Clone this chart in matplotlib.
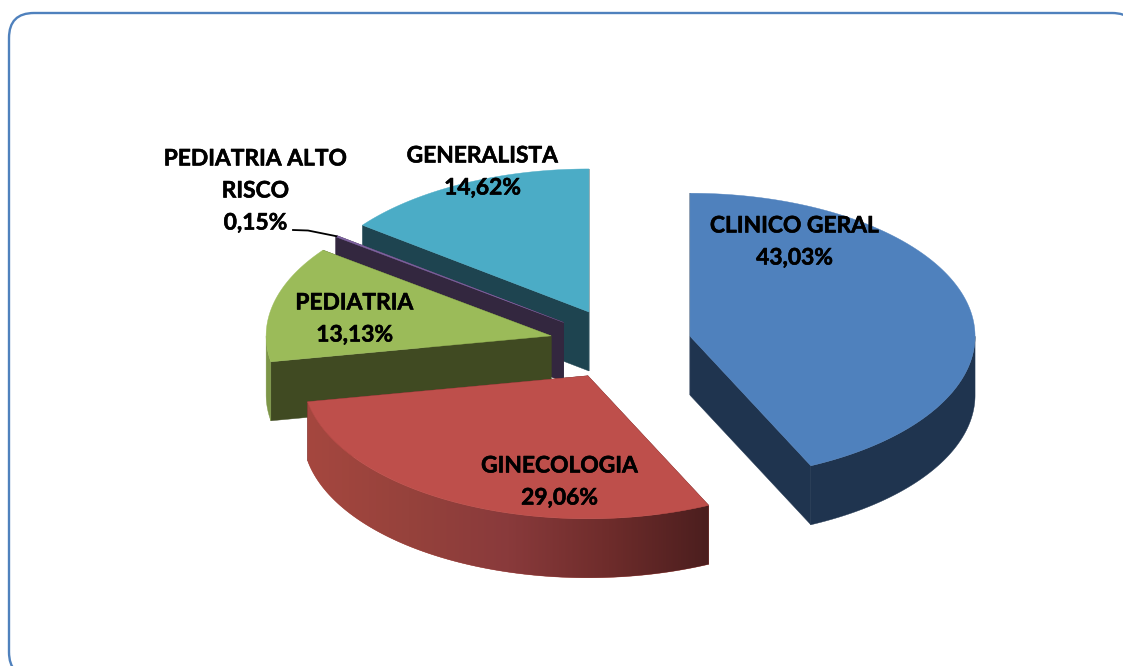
"""Torta 3D esplosa, disegnata a mano: matplotlib non ha un pie 3D."""
import numpy as np
import matplotlib
matplotlib.use("Agg")
import matplotlib.pyplot as plt
import matplotlib.patheffects as pe
from matplotlib.colors import LinearSegmentedColormap
from matplotlib.patches import FancyBboxPatch, Polygon

categorie = ["CLINICO GERAL", "GINECOLOGIA", "PEDIATRIA", "PEDIATRIA ALTO\nRISCO", "GENERALISTA"]
valori = [43.03, 29.06, 13.13, 0.15, 14.62]
colori_top = ["#4F81BD", "#BE4F4B", "#9BBB59", "#8064A2", "#4BACC6"]
colori_lato = ["#1F344F", "#4B1E1E", "#404A22", "#33273F", "#1E4450"]
rampe_bordo = [
    ["#1F344F"],
    ["#A5473F", "#96423C", "#893A3B", "#6E2C2B", "#4B1E1E"],
    ["#7D9648"],
    ["#33273F"],
    ["#1E4450"],
]
label_xy = [(794.5, 242), (559.5, 482), (354.5, 319), (255.5, 191), (482.5, 172)]

CX, CY = 620.5, 344
RX, RY = 285, 143
DEPTH = 59
EXPLODE = 0.25
FS = 16.4

fig = plt.figure(figsize=(11.23, 6.66), dpi=100)
ax = fig.add_axes([0, 0, 1, 1])
ax.axis("off")

ax.add_patch(FancyBboxPatch((9, 13), 1128, 664, boxstyle="round,pad=0,rounding_size=25",
                            fc="white", ec="#4F81BD", lw=1.7, zorder=0))


def punto(c, t):
    return np.array([c[0] + RX * np.sin(t), c[1] - RY * np.cos(t)])


# angoli cumulati in senso orario a partire dalle ore 12
fine = np.cumsum(valori) / np.sum(valori) * 2 * np.pi
inizio = np.concatenate([[0], fine[:-1]])
z = 1

# ordine di disegno: dal fondo verso l'osservatore
for i in [4, 3, 2, 1, 0]:
    a, b = inizio[i], fine[i]
    m = (a + b) / 2
    c = (CX + EXPLODE * RX * np.sin(m), CY - EXPLODE * RY * np.cos(m))
    giu = np.array([0, DEPTH])
    apice = np.array(c)

    # facce radiali: prima quella piu' in alto
    for t in sorted([a, b], key=lambda t: punto(c, t)[1]):
        p = punto(c, t)
        ax.add_patch(Polygon([apice, p, p + giu, apice + giu], closed=True,
                             fc=colori_lato[i], ec=colori_lato[i], lw=0.3, zorder=z))
        z += 1

    # bordo esterno, solo la meta' davanti; sfumato da sinistra a destra se serve
    t0, t1 = max(a, np.pi / 2), min(b, 3 * np.pi / 2)
    if t1 > t0:
        rampa = rampe_bordo[i]
        arco = np.array([punto(c, t) for t in np.linspace(t0, t1, 200)])
        bordo = Polygon(np.vstack([arco, arco[::-1] + giu]), closed=True,
                        fc=rampa[0], ec=rampa[0], lw=0.3, zorder=z)
        ax.add_patch(bordo)
        z += 1
        if len(rampa) > 1:
            cmap = LinearSegmentedColormap.from_list("rim", rampa)
            xmin, xmax = arco[:, 0].min(), arco[:, 0].max()
            ymin, ymax = arco[:, 1].min(), arco[:, 1].max() + DEPTH
            im = ax.imshow(np.linspace(0, 1, 256).reshape(1, -1), cmap=cmap, aspect="auto",
                           extent=(xmin, xmax, ymax, ymin), interpolation="bilinear", zorder=z)
            im.set_clip_path(bordo)
            z += 1

    # faccia superiore
    ts = np.linspace(a, b, 200)
    ax.add_patch(Polygon([apice] + [punto(c, t) for t in ts], closed=True,
                         fc=colori_top[i], ec=colori_top[i], lw=0.3, zorder=z))
    z += 1

# linea guida verso la fetta piccola
m = (inizio[3] + fine[3]) / 2
c3 = (CX + EXPLODE * RX * np.sin(m), CY - EXPLODE * RY * np.cos(m))
p3 = punto(c3, m)
ax.plot([293, 308, p3[0]], [230, 230.5, p3[1]], color="black", lw=1.3, zorder=z)
z += 1

for nome, v, (x, y) in zip(categorie, valori, label_xy):
    testo = f"{nome}\n{v:.2f}%".replace(".", ",")
    ax.text(x, y, testo, ha="center", va="center", family="Lato", fontweight="bold",
            fontsize=FS, color="black", linespacing=1.65, zorder=z,
            path_effects=[pe.withStroke(linewidth=0.4, foreground="black")])

ax.set_xlim(0, 1123)
ax.set_ylim(666, 0)
fig.savefig("out.png", dpi=100)
